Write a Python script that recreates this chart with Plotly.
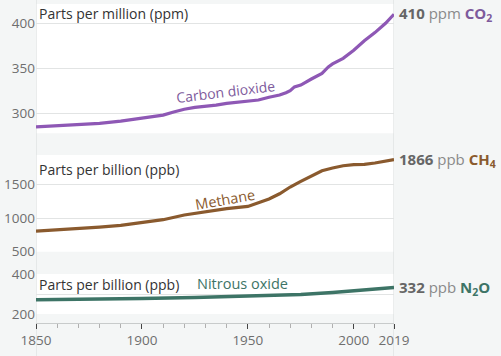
import plotly.graph_objects as go

# ---------------- data ----------------
co2_years = [1850, 1870, 1880, 1890, 1900, 1910, 1915, 1920, 1925, 1930, 1935, 1940, 1945,
             1950, 1955, 1960, 1965, 1968, 1970, 1972, 1975, 1980, 1985, 1988, 1990, 1995,
             2000, 2005, 2010, 2015, 2019]
co2_ppm = [285, 287.4, 288.9, 291.4, 294.4, 298, 301.5, 304.5, 306.5, 307.4, 309, 311, 312.5,
           313.5, 314.8, 317.8, 320.3, 322.9, 325.1, 329.3, 331.4, 338.1, 344.4, 351.5, 354.8,
           361.1, 370, 380.5, 389.6, 400, 410]

ch4_years = [1850, 1870, 1880, 1890, 1900, 1910, 1920, 1930, 1940, 1950, 1955, 1960, 1965,
             1970, 1975, 1980, 1985, 1990, 1995, 2000, 2005, 2010, 2015, 2019]
ch4_ppb = [805, 841, 866, 890, 930, 975, 1045, 1098, 1140, 1172, 1231, 1282, 1360,
           1460, 1543, 1628, 1702, 1742, 1776, 1791, 1795, 1816, 1845, 1866]

n2o_years = [1850, 1875, 1900, 1925, 1950, 1975, 1990, 2000, 2010, 2019]
n2o_ppb = [271, 273, 277, 282, 288, 298, 308, 316, 323, 332]

x_ticks = [1850, 1900, 1950, 2000, 2019]
x_minor = [1860, 1870, 1880, 1890, 1910, 1920, 1930, 1940, 1960, 1970, 1980, 1990, 2010]
co2_ticks = [300, 350, 400]
ch4_ticks = [500, 1000, 1500]
n2o_ticks = [200, 400]
n2o_minor_grid = [300]

# ---------------- style ----------------
BG = "#f4f6f6"
GRID = "#e2e4e4"
TICKC = "#6e6e6e"
FONT = "Open Sans"
C_CO2 = "#8e58b5"
T_CO2 = "#7d5a9c"
C_CH4 = "#8a5a2e"
C_N2O = "#3d7466"

fig = go.Figure()
fig.add_trace(go.Scatter(x=co2_years, y=co2_ppm, mode="lines", xaxis="x", yaxis="y",
                         line=dict(color=C_CO2, width=3.2), hoverinfo="skip"))
fig.add_trace(go.Scatter(x=ch4_years, y=ch4_ppb, mode="lines", xaxis="x", yaxis="y2",
                         line=dict(color=C_CH4, width=3.2), hoverinfo="skip"))
fig.add_trace(go.Scatter(x=n2o_years, y=n2o_ppb, mode="lines", xaxis="x", yaxis="y3",
                         line=dict(color=C_N2O, width=3.5), hoverinfo="skip"))

yax_common = dict(showline=False, ticks="", zeroline=False, gridcolor=GRID, gridwidth=1,
                  automargin=False,
                  tickfont=dict(family=FONT, size=13.5, color=TICKC), fixedrange=True)

fig.update_layout(
    width=501, height=356,
    margin=dict(l=36, r=107, t=4, b=33, autoexpand=False),
    paper_bgcolor=BG, plot_bgcolor="white",
    showlegend=False,
    font=dict(family=FONT, color="#333"),
    xaxis=dict(range=[1850, 2019], anchor="free", position=0, showgrid=False, zeroline=False,
               automargin=False, fixedrange=True,
               showline=True, linecolor="#c8cbcb", linewidth=1,
               ticks="outside", tickvals=x_ticks, ticklen=5, tickcolor="#444", tickwidth=1,
               tickfont=dict(family=FONT, size=13.5, color=TICKC),
               minor=dict(tickvals=x_minor, ticks="outside", ticklen=4, tickcolor="#b0b0b0",
                          tickwidth=1, showgrid=False)),
    yaxis=dict(domain=[0.5947, 1.0], range=[277.8, 421.4], tickvals=co2_ticks, **yax_common),
    yaxis2=dict(domain=[0.2235, 0.5266], range=[500, 1935], tickvals=ch4_ticks, anchor="x",
                **yax_common),
    yaxis3=dict(domain=[0.0282, 0.1536], range=[200, 400], tickvals=n2o_ticks, anchor="x",
                minor=dict(tickvals=n2o_minor_grid, showgrid=True, gridcolor=GRID, ticks=""),
                **yax_common),
)

# vertical frame lines spanning the full height
for xv in (x_ticks[0], x_ticks[-1]):
    fig.add_shape(type="line", xref="x", yref="paper", x0=xv, x1=xv, y0=-0.104, y1=1.013,
                  line=dict(color="#d6dada", width=1), layer="below")

# panel titles
TITLE_FONT = dict(family=FONT, size=14, color="#333")
fig.add_annotation(x=0, xref="paper", y=410.9, yref="y", text="Parts per million (ppm)",
                   showarrow=False, xanchor="left", yanchor="middle", xshift=1, font=TITLE_FONT)
fig.add_annotation(x=0, xref="paper", y=1717, yref="y2", text="Parts per billion (ppb)",
                   showarrow=False, xanchor="left", yanchor="middle", xshift=1, font=TITLE_FONT)
fig.add_annotation(x=0, xref="paper", y=350, yref="y3", text="Parts per billion (ppb)",
                   showarrow=False, xanchor="left", yanchor="middle", xshift=1, font=TITLE_FONT)

# series labels on lines
fig.add_annotation(x=1939.6, y=323.7, xref="x", yref="y", text="Carbon dioxide",
                   showarrow=False, textangle=-7, font=dict(family=FONT, size=14, color=T_CO2))
fig.add_annotation(x=1939.2, y=1271, xref="x", yref="y2", text="Methane",
                   showarrow=False, textangle=-10, font=dict(family=FONT, size=14.5, color=C_CH4))
fig.add_annotation(x=1947.6, y=355, xref="x", yref="y3", text="Nitrous oxide",
                   showarrow=False, font=dict(family=FONT, size=14.5, color=C_N2O))


# end-value labels
def end_label(val, unit, formula, color):
    return ("<b>%d</b> <span style='color:#8a8a8a'>%s</span> "
            "<b><span style='color:%s'>%s</span></b>" % (int(round(val)), unit, color, formula))


END_FONT = dict(family=FONT, size=15, color="#666")
fig.add_annotation(x=co2_years[-1], y=co2_ppm[-1], xref="x", yref="y",
                   text=end_label(co2_ppm[-1], "ppm", "CO<sub>2</sub>", T_CO2),
                   showarrow=False, xanchor="left", yanchor="middle", xshift=3, font=END_FONT)
fig.add_annotation(x=ch4_years[-1], y=ch4_ppb[-1], xref="x", yref="y2",
                   text=end_label(ch4_ppb[-1], "ppb", "CH<sub>4</sub>", C_CH4),
                   showarrow=False, xanchor="left", yanchor="middle", xshift=3, font=END_FONT)
fig.add_annotation(x=n2o_years[-1], y=n2o_ppb[-1], xref="x", yref="y3",
                   text=end_label(n2o_ppb[-1], "ppb", "N<sub>2</sub>O", C_N2O),
                   showarrow=False, xanchor="left", yanchor="middle", xshift=3, font=END_FONT)

fig.write_html("out.html", config={"displayModeBar": False, "staticPlot": True},
               post_script="document.body.style.margin='0';document.body.style.overflow='hidden';")
